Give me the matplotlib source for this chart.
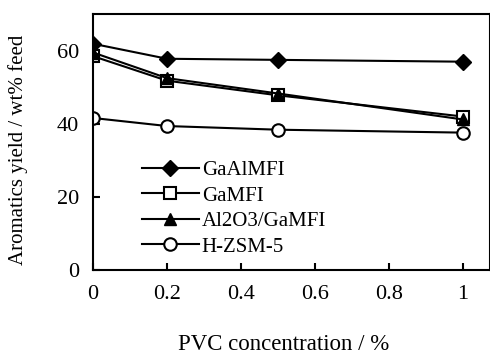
import matplotlib
matplotlib.use("Agg")
import matplotlib.pyplot as plt

plt.rcParams['font.family'] = ['Liberation Serif', 'DejaVu Serif']

# PVC concentration (%)
pvc = [0, 0.2, 0.5, 1.0]

# aromatics yield (wt% feed)
gaalmfi = [61.9, 57.8, 57.5, 57.0]
gamfi = [58.5, 51.8, 47.8, 42.0]
al2o3_gamfi = [59.5, 52.5, 48.3, 41.2]
hzsm5 = [41.6, 39.4, 38.4, 37.6]

fig = plt.figure(figsize=(4.9, 3.54), dpi=100)
ax = fig.add_axes([0.19, 0.237, 0.81, 0.723])

ax.plot(pvc, gaalmfi, '-D', color='black', lw=1.5, ms=8, label='GaAlMFI')
ax.plot(pvc, gamfi, '-s', color='black', mfc='white', mew=1.5, lw=1.5, ms=9, label='GaMFI')
ax.plot(pvc, al2o3_gamfi, '-^', color='black', lw=1.5, ms=9, label='Al2O3/GaMFI')
ax.plot(pvc, hzsm5, '-o', color='black', mfc='white', mew=1.5, lw=1.5, ms=9, label='H-ZSM-5')

ax.set_xlim(0, 1.073)
ax.set_ylim(0, 70)
ax.set_xticks([0, 0.2, 0.4, 0.6, 0.8, 1.0])
ax.set_xticklabels(['0', '0.2', '0.4', '0.6', '0.8', '1'])
ax.set_yticks([0, 20, 40, 60])
ax.tick_params(direction='in', length=5, width=1.5, labelsize=16)
ax.tick_params(axis='x', pad=11)
ax.tick_params(axis='y', pad=10)
for s in ax.spines.values():
    s.set_linewidth(1.5)

ax.set_xlabel('PVC concentration / %', fontsize=16.5)
ax.set_ylabel('Aromatics yield / wt% feed', fontsize=15)
ax.xaxis.set_label_coords(0.479, -0.25)
ax.yaxis.set_label_coords(-0.164, 0.47)

ax.legend(loc='lower left', bbox_to_anchor=(0.09, 0.0), frameon=False, fontsize=15,
          handlelength=2.7, handletextpad=0.15, labelspacing=0.28, borderaxespad=0.25)

fig.savefig('out.png', dpi=100)
